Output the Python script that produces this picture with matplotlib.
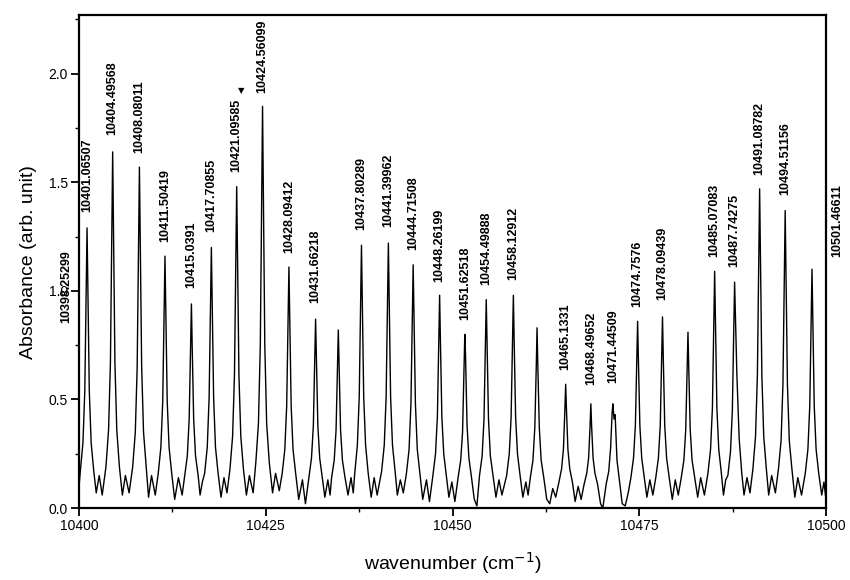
import matplotlib
matplotlib.use("Agg")
import matplotlib.pyplot as plt
from matplotlib.ticker import MultipleLocator

# ── spectrum vertices (wavenumber, absorbance) ────────────────────────────────
wn = [
    10400.00,
    10400.17, 10400.52, 10400.77, 10400.97, 10401.07, 10401.17, 10401.37, 10401.62, 10401.97,
    10402.3, 10402.7, 10403.1,
    10403.60, 10403.95, 10404.20, 10404.40, 10404.50, 10404.60, 10404.80, 10405.05, 10405.40,
    10405.8, 10406.2, 10406.7,
    10407.18, 10407.53, 10407.78, 10407.98, 10408.08, 10408.18, 10408.38, 10408.63, 10408.98,
    10409.3, 10409.7, 10410.2,
    10410.60, 10410.95, 10411.20, 10411.40, 10411.50, 10411.60, 10411.80, 10412.05, 10412.40,
    10412.8, 10413.3, 10413.8,
    10414.14, 10414.49, 10414.74, 10414.94, 10415.04, 10415.14, 10415.34, 10415.59, 10415.94,
    10416.2, 10416.5,
    10416.81, 10417.16, 10417.41, 10417.61, 10417.71, 10417.81, 10418.01, 10418.26, 10418.61,
    10419.0, 10419.4, 10419.8,
    10420.20, 10420.55, 10420.80, 10421.00, 10421.10, 10421.20, 10421.40, 10421.65, 10422.00,
    10422.4, 10422.8, 10423.3,
    10423.66, 10424.01, 10424.26, 10424.46, 10424.56, 10424.66, 10424.86, 10425.11, 10425.46,
    10425.9, 10426.3, 10426.8,
    10427.19, 10427.54, 10427.79, 10427.99, 10428.09, 10428.19, 10428.39, 10428.64, 10428.99,
    10429.4, 10429.9, 10430.3,
    10430.76, 10431.11, 10431.36, 10431.56, 10431.66, 10431.76, 10431.96, 10432.21, 10432.56,
    10432.9, 10433.3, 10433.6,
    10433.80, 10434.15, 10434.40, 10434.60, 10434.70, 10434.80, 10435.00, 10435.25, 10435.60,
    10436.0, 10436.4, 10436.7,
    10436.90, 10437.25, 10437.50, 10437.70, 10437.80, 10437.90, 10438.10, 10438.35, 10438.70,
    10439.1, 10439.5, 10439.9,
    10440.50, 10440.85, 10441.10, 10441.30, 10441.40, 10441.50, 10441.70, 10441.95, 10442.30,
    10442.6, 10443.0, 10443.4,
    10443.82, 10444.17, 10444.42, 10444.62, 10444.72, 10444.82, 10445.02, 10445.27, 10445.62,
    10446.0, 10446.5, 10446.9,
    10447.36, 10447.71, 10447.96, 10448.16, 10448.26, 10448.36, 10448.56, 10448.81, 10449.16,
    10449.5, 10449.9, 10450.3,
    10450.73, 10451.08, 10451.33, 10451.53, 10451.63, 10451.73, 10451.93, 10452.18, 10452.53,
    10452.9, 10453.25,
    10453.60, 10453.95, 10454.20, 10454.40, 10454.50, 10454.60, 10454.80, 10455.05, 10455.40,
    10455.8, 10456.2, 10456.6,
    10457.23, 10457.58, 10457.83, 10458.03, 10458.13, 10458.23, 10458.43, 10458.68, 10459.03,
    10459.4, 10459.8, 10460.1,
    10460.40, 10460.75, 10461.00, 10461.20, 10461.30, 10461.40, 10461.60, 10461.85, 10462.20,
    10462.6, 10463.0, 10463.4, 10463.8,
    10464.23, 10464.58, 10464.83, 10465.03, 10465.13, 10465.23, 10465.43, 10465.68, 10466.03,
    10466.4, 10466.8, 10467.2,
    10467.60, 10467.95, 10468.20, 10468.40, 10468.50, 10468.60, 10468.80, 10469.05, 10469.40,
    10469.8, 10470.1,
    10470.55, 10470.90, 10471.15, 10471.35, 10471.45, 10471.60, 10471.75, 10472.00, 10472.35,
    10472.7, 10473.1, 10473.5,
    10473.86, 10474.21, 10474.46, 10474.66, 10474.76, 10474.86, 10475.06, 10475.31, 10475.66,
    10476.0, 10476.4, 10476.8,
    10477.19, 10477.54, 10477.79, 10477.99, 10478.09, 10478.19, 10478.39, 10478.64, 10478.99,
    10479.4, 10479.8, 10480.2,
    10480.60, 10480.95, 10481.20, 10481.40, 10481.50, 10481.60, 10481.80, 10482.05, 10482.40,
    10482.8, 10483.2, 10483.7,
    10484.17, 10484.52, 10484.77, 10484.97, 10485.07, 10485.17, 10485.37, 10485.62, 10485.97,
    10486.25, 10486.55,
    10486.84, 10487.19, 10487.44, 10487.64, 10487.74, 10487.84, 10488.04, 10488.35, 10488.70,
    10489.0, 10489.4, 10489.8,
    10490.19, 10490.54, 10490.79, 10490.99, 10491.09, 10491.19, 10491.39, 10491.64, 10491.99,
    10492.3, 10492.7, 10493.2,
    10493.61, 10493.96, 10494.21, 10494.41, 10494.51, 10494.61, 10494.81, 10495.06, 10495.41,
    10495.8, 10496.2, 10496.7,
    10497.20, 10497.55, 10497.80, 10498.00, 10498.10, 10498.20, 10498.40, 10498.65, 10499.00,
    10499.4, 10499.7, 10500.0,
]
absorb = [
    0.10,
    0.17, 0.30, 0.54, 1.03, 1.29, 1.03, 0.54, 0.30, 0.17,
    0.07, 0.15, 0.06,
    0.19, 0.36, 0.67, 1.31, 1.64, 1.31, 0.67, 0.36, 0.19,
    0.06, 0.15, 0.07,
    0.19, 0.35, 0.65, 1.26, 1.57, 1.26, 0.65, 0.35, 0.19,
    0.05, 0.15, 0.06,
    0.16, 0.28, 0.49, 0.93, 1.16, 0.93, 0.49, 0.28, 0.16,
    0.04, 0.14, 0.06,
    0.15, 0.24, 0.41, 0.75, 0.94, 0.75, 0.41, 0.24, 0.15,
    0.06, 0.12,
    0.16, 0.28, 0.51, 0.96, 1.20, 0.96, 0.51, 0.28, 0.16,
    0.05, 0.14, 0.07,
    0.18, 0.33, 0.61, 1.18, 1.48, 1.18, 0.61, 0.33, 0.18,
    0.06, 0.15, 0.07,
    0.21, 0.39, 0.75, 1.48, 1.85, 1.48, 0.75, 0.39, 0.21,
    0.07, 0.16, 0.08,
    0.16, 0.27, 0.47, 0.89, 1.11, 0.89, 0.47, 0.27, 0.16,
    0.04, 0.13, 0.02,
    0.14, 0.23, 0.38, 0.70, 0.87, 0.70, 0.38, 0.23, 0.14,
    0.05, 0.13, 0.06,
    0.14, 0.22, 0.36, 0.66, 0.82, 0.66, 0.36, 0.22, 0.14,
    0.06, 0.14, 0.07,
    0.16, 0.29, 0.51, 0.97, 1.21, 0.97, 0.51, 0.29, 0.16,
    0.05, 0.14, 0.06,
    0.17, 0.29, 0.51, 0.98, 1.22, 0.98, 0.51, 0.29, 0.17,
    0.06, 0.13, 0.07,
    0.16, 0.27, 0.48, 0.90, 1.12, 0.90, 0.48, 0.27, 0.16,
    0.04, 0.13, 0.03,
    0.15, 0.25, 0.42, 0.78, 0.98, 0.78, 0.42, 0.25, 0.15,
    0.05, 0.12, 0.03,
    0.14, 0.22, 0.35, 0.66, 0.80, 0.70, 0.38, 0.23, 0.14,
    0.04, 0.01,
    0.15, 0.24, 0.41, 0.77, 0.96, 0.77, 0.41, 0.24, 0.15,
    0.05, 0.13, 0.06,
    0.15, 0.25, 0.42, 0.78, 0.98, 0.78, 0.42, 0.25, 0.15,
    0.05, 0.12, 0.06,
    0.14, 0.22, 0.37, 0.66, 0.83, 0.66, 0.37, 0.22, 0.14,
    0.04, 0.02, 0.09, 0.05,
    0.12, 0.18, 0.27, 0.46, 0.57, 0.46, 0.27, 0.18, 0.12,
    0.03, 0.10, 0.04,
    0.11, 0.16, 0.23, 0.38, 0.48, 0.38, 0.23, 0.16, 0.11,
    0.02, 0.00,
    0.11, 0.17, 0.28, 0.44, 0.48, 0.41, 0.43, 0.22, 0.12,
    0.02, 0.01, 0.07,
    0.14, 0.23, 0.38, 0.69, 0.86, 0.69, 0.38, 0.23, 0.14,
    0.05, 0.13, 0.06,
    0.14, 0.23, 0.38, 0.70, 0.88, 0.70, 0.38, 0.23, 0.14,
    0.04, 0.13, 0.06,
    0.14, 0.22, 0.36, 0.65, 0.81, 0.65, 0.36, 0.22, 0.14,
    0.05, 0.14, 0.06,
    0.16, 0.27, 0.46, 0.87, 1.09, 0.87, 0.46, 0.27, 0.16,
    0.06, 0.13,
    0.15, 0.26, 0.45, 0.83, 1.04, 0.90, 0.62, 0.32, 0.16,
    0.06, 0.14, 0.07,
    0.18, 0.33, 0.61, 1.18, 1.47, 1.18, 0.61, 0.33, 0.18,
    0.06, 0.15, 0.07,
    0.18, 0.31, 0.57, 1.10, 1.37, 1.10, 0.57, 0.31, 0.18,
    0.05, 0.14, 0.06,
    0.16, 0.27, 0.47, 0.88, 1.10, 0.88, 0.47, 0.27, 0.16,
    0.06, 0.12, 0.03,
]

# peak assignments and the height where each label starts
peak_labels = [
    "10398.25299", "10401.06507", "10404.49568", "10408.08011", "10411.50419",
    "10415.0391", "10417.70855", "10421.09585", "10424.56099", "10428.09412",
    "10431.66218", "10437.80289", "10441.39962", "10444.71508", "10448.26199",
    "10451.62518", "10454.49888", "10458.12912", "10465.1331", "10468.49652",
    "10471.44509", "10474.7576", "10478.09439", "10485.07083", "10487.74275",
    "10491.08782", "10494.51156", "10501.46611",
]
label_y = [
    0.853, 1.364, 1.719, 1.636, 1.226,
    1.014, 1.272, 1.548, 1.912, 1.175,
    0.945, 1.281, 1.295, 1.189, 1.041,
    0.866, 1.028, 1.051, 0.636, 0.567,
    0.576, 0.926, 0.959, 1.157, 1.111,
    1.535, 1.442, 1.157,
]

# ── plot ──────────────────────────────────────────────────────────────────────
plt.rcParams["font.family"] = ["Liberation Sans", "DejaVu Sans"]

fig = plt.figure(figsize=(8.5, 5.8), dpi=100)
ax = fig.add_axes([0.093, 0.124, 0.879, 0.850])

ax.plot(wn, absorb, color="black", linewidth=1.0)

for lab, y in zip(peak_labels, label_y):
    ax.text(float(lab), y, lab, rotation=90, ha="center", va="bottom",
            fontsize=9, fontweight="bold", clip_on=False)
# small arrow marker above the 10421 line
ax.text(10421.75, 1.90, "▼", ha="center", va="bottom", fontsize=6,
        family=["DejaVu Sans"])

ax.set_xlim(10400, 10500)
ax.set_ylim(0, 2.27)
ax.xaxis.set_major_locator(MultipleLocator(25))
ax.xaxis.set_minor_locator(MultipleLocator(12.5))
ax.yaxis.set_major_locator(MultipleLocator(0.5))
ax.yaxis.set_minor_locator(MultipleLocator(0.25))
ax.tick_params(which="major", direction="out", length=6, width=1.3,
               labelsize=10, pad=2)
ax.tick_params(which="minor", direction="out", length=3, width=1.0)
for s in ax.spines.values():
    s.set_linewidth(1.6)

ax.set_xlabel("wavenumber (cm$^{-1}$)", fontsize=14, labelpad=12)
ax.set_ylabel("Absorbance (arb. unit)", fontsize=14, labelpad=8)

fig.savefig("out.png", dpi=100)
